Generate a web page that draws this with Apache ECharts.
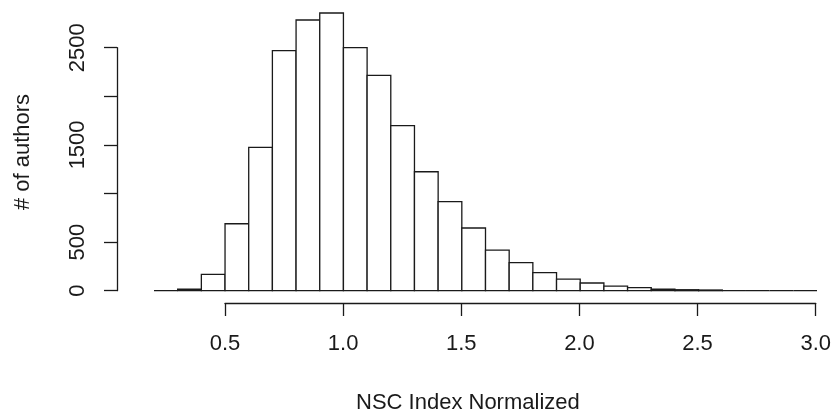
<!DOCTYPE html>
<html>
<head>
<meta charset="utf-8">
<script src="https://cdn.jsdelivr.net/npm/echarts@6/dist/echarts.min.js"></script>
<style>
  html, body { margin: 0; padding: 0; background: #fff; }
  #main { width: 834px; height: 410px; }
</style>
</head>
<body>
<div id="main"></div>
<script>
// histogram bins (left edges, width 0.1) and counts
var binStarts = [0.2, 0.3, 0.4, 0.5, 0.6, 0.7, 0.8, 0.9, 1.0, 1.1, 1.2, 1.3, 1.4,
  1.5, 1.6, 1.7, 1.8, 1.9, 2.0, 2.1, 2.2, 2.3, 2.4, 2.5, 2.6, 2.7, 2.8, 2.9]
var counts = [0, 15, 168, 689, 1474, 2469, 2785, 2857, 2500, 2215, 1698, 1224, 916,
  645, 418, 288, 185, 120, 79, 48, 31, 15, 10, 7, 0, 0, 0, 0]
var binWidth = 0.1
var xTicks = [0.5, 1.0, 1.5, 2.0, 2.5, 3.0]
var yTicks = [0, 500, 1000, 1500, 2000, 2500]
// R drops the labels that would overlap
var yLabelsShown = [0, 500, 1500, 2500]

var font = 'Liberation Sans, Arial, sans-serif'
var ink = '#1a1a1a'

var data = []
for (var i = 0; i < binStarts.length; i++) {
  data.push([binStarts[i], binStarts[i] + binWidth, counts[i]])
}

var myChart = echarts.init(document.getElementById('main'))
var option = {
  animation: false,
  grid: [
    // data area
    { left: 154, right: 17, top: 47.7, bottom: 119.3 },
    // y axis only
    { left: 117, width: 10, top: 47.7, bottom: 119.3 },
    // x axis only
    { left: 225, right: 17, top: 280, bottom: 107 }
  ],
  xAxis: [
    { gridIndex: 0, type: 'value', min: 0.2, max: 3.0, show: false },
    { gridIndex: 1, type: 'value', show: false },
    {
      gridIndex: 2, type: 'value', min: xTicks[0], max: xTicks[xTicks.length - 1], interval: 0.5,
      axisLine: { show: true, lineStyle: { color: ink, width: 1.3 } },
      axisTick: { show: true, length: 13, lineStyle: { color: ink, width: 1.3 } },
      splitLine: { show: false },
      axisLabel: {
        margin: 30, color: ink, fontFamily: font, fontSize: 22,
        formatter: function (v) { return v.toFixed(1) }
      }
    }
  ],
  yAxis: [
    { gridIndex: 0, type: 'value', min: 0, max: 2500, show: false },
    {
      gridIndex: 1, type: 'value', min: yTicks[0], max: yTicks[yTicks.length - 1], interval: 500,
      position: 'left',
      axisLine: { show: true, lineStyle: { color: ink, width: 1.3 } },
      axisTick: { show: true, length: 13, lineStyle: { color: ink, width: 1.3 } },
      splitLine: { show: false },
      axisLabel: {
        rotate: 90, margin: 28, color: ink, fontFamily: font, fontSize: 22,
        formatter: function (v) { return yLabelsShown.indexOf(v) >= 0 ? String(v) : '' }
      }
    },
    { gridIndex: 2, type: 'value', show: false }
  ],
  title: {
    text: 'NSC Index Normalized',
    left: 351, top: 387,
    textStyle: { color: ink, fontFamily: font, fontSize: 22, fontWeight: 'normal' }
  },
  graphic: [{
    type: 'text',
    x: 23, y: 152,
    rotation: Math.PI / 2,
    style: {
      text: '# of authors', fill: ink, font: '22px ' + font,
      textAlign: 'center', textVerticalAlign: 'middle'
    }
  }],
  series: [{
    type: 'custom',
    xAxisIndex: 0,
    yAxisIndex: 0,
    clip: false,
    data: data,
    renderItem: function (params, api) {
      var p0 = api.coord([api.value(0), api.value(2)])
      var p1 = api.coord([api.value(1), 0])
      return {
        type: 'rect',
        shape: { x: p0[0], y: p0[1], width: p1[0] - p0[0], height: p1[1] - p0[1] },
        style: { fill: '#fff', stroke: ink, lineWidth: 1.3 }
      }
    }
  }]
}
myChart.setOption(option)
</script>
</body>
</html>
